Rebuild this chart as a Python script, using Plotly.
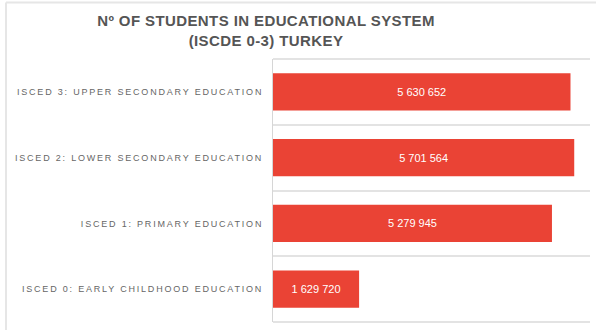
import plotly.graph_objects as go

# Student counts by ISCED level, Turkey
categories = [
    "ISCED 0: EARLY CHILDHOOD EDUCATION",
    "ISCED 1: PRIMARY EDUCATION",
    "ISCED 2: LOWER SECONDARY EDUCATION",
    "ISCED 3: UPPER SECONDARY EDUCATION",
]
students = [1629720, 5279945, 5701564, 5630652]
positions = list(range(len(categories)))

BAR_RED = "#EA4335"
GRID = "#e3e3e3"
W, H = 596, 330
ML, MR, MT, MB = 273, 6, 59, 8

fig = go.Figure(
    go.Bar(
        x=students,
        y=positions,
        orientation="h",
        width=0.565,
        marker=dict(color=BAR_RED, line=dict(width=0)),
        texttemplate="%{x:,}",
        textposition="inside",
        insidetextanchor="middle",
        textangle=0,
        constraintext="none",
        textfont=dict(family="Liberation Sans, Arial", size=11, color="white"),
        hoverinfo="skip",
    )
)

# outer frame of the card (left and top edges)
pw, ph = W - ML - MR, H - MT - MB
fx = (6 - ML) / pw
fy = (H - MB - 2.5) / ph
frame = dict(color="#e6e6e6", width=2)
fig.add_shape(type="line", xref="paper", yref="paper", x0=fx, x1=fx, y0=fy, y1=-0.2,
              line=frame, layer="above")
fig.add_shape(type="line", xref="paper", yref="paper", x0=fx, x1=1.2, y0=fy, y1=fy,
              line=frame, layer="above")

# top and bottom edges of the plot grid
for yy in (0, 1):
    fig.add_shape(type="line", xref="paper", yref="paper", x0=0, x1=1, y0=yy, y1=yy,
                  line=dict(color=GRID, width=2), layer="below")

fig.update_layout(
    width=W,
    height=H,
    margin=dict(l=ML, r=MR, t=MT, b=MB, pad=0),
    paper_bgcolor="white",
    plot_bgcolor="white",
    separators=". ",
    showlegend=False,
    title=dict(
        text="Nº OF STUDENTS IN EDUCATIONAL SYSTEM<br>(ISCDE 0-3) TURKEY",
        x=266 / W,
        xanchor="center",
        xref="container",
        y=1 - 26 / H,
        yanchor="top",
        yref="container",
        font=dict(family="Liberation Sans, Arial", size=15, color="#555555", weight="bold"),
    ),
    xaxis=dict(
        range=[0, 6000000],
        showgrid=False,
        zeroline=False,
        showticklabels=False,
        ticks="",
        fixedrange=True,
    ),
    yaxis=dict(
        range=[-0.5, 3.5],
        tickvals=positions,
        ticktext=categories,
        showgrid=False,
        zeroline=False,
        showline=True,
        linecolor="#d6d6d6",
        linewidth=1,
        ticks="",
        ticklabelstandoff=7,
        tickfont=dict(family="Liberation Sans, Arial", size=9, color="#666666"),
        minor=dict(tick0=-0.5, dtick=1, showgrid=True, gridcolor=GRID, gridwidth=2, ticks=""),
        fixedrange=True,
    ),
)

post = """
var gd = document.getElementById('{plot_id}');
function spacing(){
  gd.querySelectorAll('.ytick text').forEach(function(t){ t.style.letterSpacing = '1.8px'; });
  var g = gd.querySelector('.gtitle');
  if (g) { g.style.letterSpacing = '0.4px'; }
}
spacing();
gd.on('plotly_afterplot', spacing);
"""

fig.write_html("out.html", post_script=post, config={"displayModeBar": False})
